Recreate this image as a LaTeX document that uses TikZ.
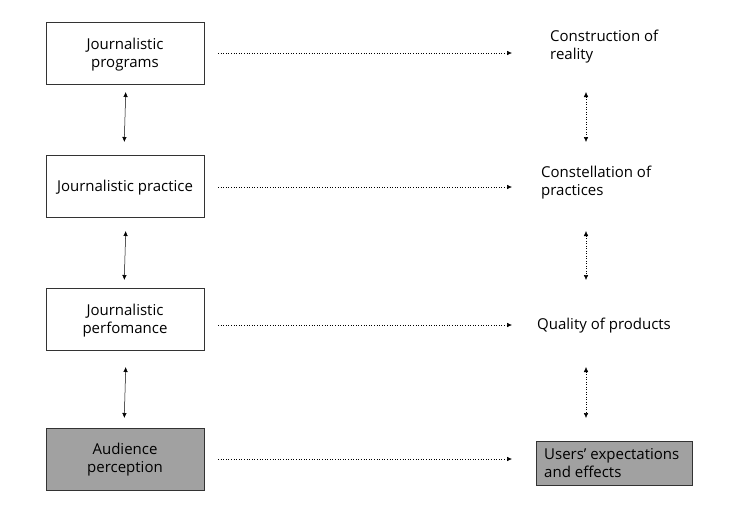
\documentclass[tikz,border=0pt]{standalone}
\usepackage{fontspec}
\setmainfont{Open Sans}
\usetikzlibrary{arrows.meta}
\begin{document}
\begin{tikzpicture}[x=1pt,y=-1pt,
  box/.style={draw=black!80,line width=0.8pt,minimum width=158pt,minimum height=62pt,inner sep=0pt,align=center,font=\fontsize{15}{18}\selectfont},
  graybox/.style={box,fill=black!37},
  lbl/.style={anchor=north west,inner sep=0pt,align=left,font=\fontsize{15}{18}\selectfont},
  dotarrow/.style={dotted,line width=0.6pt,-{Latex[length=5pt,width=4.5pt]}},
  dbl/.style={line width=0.5pt,{Latex[length=5pt,width=4.5pt]}-{Latex[length=5pt,width=4.5pt]}},
  dbldot/.style={dbl,dotted}]
\useasboundingbox (0,0) rectangle (750,507);
\node[box,text depth=0pt] (b1) at (125,53) {};
\node[font=\fontsize{15}{18}\selectfont,align=center] (b1t) at (125,54.5) {Journalistic\\programs};
\node[box] (b2) at (125,186.5) {};
\node[font=\fontsize{15}{18}\selectfont] (b2t) at (125,188) {Journalistic practice};
\node[box] (b3) at (125,319.5) {};
\node[font=\fontsize{15}{18}\selectfont,align=center] (b3t) at (125,321) {Journalistic\\perfomance};
\node[graybox] (b4) at (125,459) {};
\node[font=\fontsize{15}{18}\selectfont,align=center] (b4t) at (125,460) {Audience\\perception};
\node[lbl] (r1) at (550,30) {Construction of\\reality};
\node[lbl] (r2) at (541,166) {Constellation of\\practices};
\node[lbl,anchor=west] (r3) at (537,326) {Quality of products};
\node[draw=black!80,line width=0.8pt,fill=black!37,minimum width=156pt,minimum height=44pt,inner sep=0pt,anchor=north west] (r4) at (536,441) {};
\node[lbl] (r4t) at (544,448.5) {Users’ expectations\\and effects};
% horizontal dotted arrows
\coordinate (h1s) at (218,53); \coordinate (h1e) at (512,53);
\coordinate (h2s) at (218,187); \coordinate (h2e) at (512,187);
\coordinate (h3s) at (218,325); \coordinate (h3e) at (512,325);
\coordinate (h4s) at (218,459); \coordinate (h4e) at (512,459);
\draw[dotarrow] (h1s) -- (h1e);
\draw[dotarrow] (h2s) -- (h2e);
\draw[dotarrow] (h3s) -- (h3e);
\draw[dotarrow] (h4s) -- (h4e);
% left vertical arrows
\coordinate (l1a) at (125.7,92); \coordinate (l1b) at (124.3,142);
\coordinate (l2a) at (125.7,231); \coordinate (l2b) at (124.3,280);
\coordinate (l3a) at (125.7,367); \coordinate (l3b) at (124.3,418);
\draw[dbl] (l1a) -- (l1b);
\draw[dbl] (l2a) -- (l2b);
\draw[dbl] (l3a) -- (l3b);
% right vertical dotted arrows
\coordinate (v1a) at (586,92); \coordinate (v1b) at (586,142);
\coordinate (v2a) at (586,231); \coordinate (v2b) at (586,280);
\coordinate (v3a) at (586,367); \coordinate (v3b) at (586,418);
\draw[dbldot] (v1a) -- (v1b);
\draw[dbldot] (v2a) -- (v2b);
\draw[dbldot] (v3a) -- (v3b);
\end{tikzpicture}
\end{document}
